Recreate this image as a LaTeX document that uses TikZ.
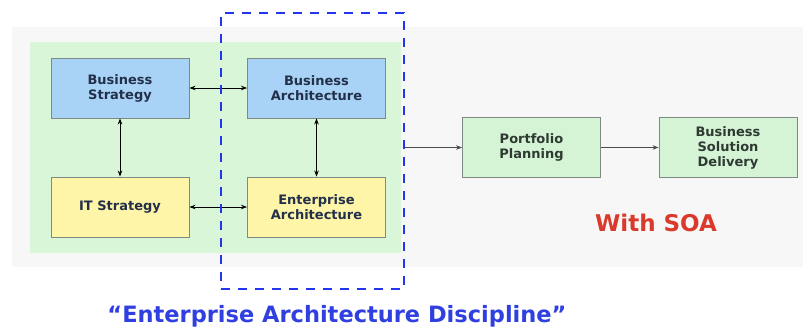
\documentclass[tikz,border=0pt]{standalone}
\usepackage{fontspec}
\setmainfont{DejaVu Sans}
\usepackage{xcolor}
\usepackage{tikz}
\usetikzlibrary{arrows.meta}

\definecolor{pagegray}{HTML}{F7F7F7}
\definecolor{areagreen}{HTML}{D9F6D9}
\definecolor{bizblue}{HTML}{A9D3F6}
\definecolor{ityellow}{HTML}{FFF5A8}
\definecolor{soagreen}{HTML}{D5F4D5}
\definecolor{boxline}{HTML}{7F8A85}
\definecolor{boxtext}{HTML}{22304A}
\definecolor{soatext}{HTML}{2E3A32}
\definecolor{dashblue}{HTML}{2236EE}
\definecolor{soared}{HTML}{D93A2B}
\definecolor{titleblue}{HTML}{2F3FE0}

\begin{document}
\begin{tikzpicture}[x=1pt, y=-1pt,
    block/.style={draw=boxline, line width=0.9pt, minimum width=138pt, minimum height=60pt,
        align=center, text=boxtext, font=\fontsize{13}{15}\selectfont\bfseries},
    link/.style={line width=0.7pt, {Stealth[length=6pt,width=4.5pt]}-{Stealth[length=6pt,width=4.5pt]}},
    flow/.style={line width=0.7pt, draw=black!70, -{Stealth[length=6pt,width=4.5pt]}}]
    \useasboundingbox (0,0) rectangle (803,329);
    \fill[white] (0,0) rectangle (803,329);
    % Backgrounds
    \fill[pagegray] (12,27) rectangle (803,267);
    \fill[areagreen] (30,42) rectangle (401,253);

    % Four boxes of the left area
    \node[block, fill=bizblue] (bs) at (120,88) {Business\\Strategy};
    \node[block, fill=bizblue] (ba) at (316.5,88) {Business\\Architecture};
    \node[block, fill=ityellow] (its) at (120,207) {IT Strategy};
    \node[block, fill=ityellow] (ea) at (316.5,207) {Enterprise\\Architecture};

    % Arrows between them
    \draw[link] (bs) -- (ba);
    \draw[link] (its) -- (ea);
    \draw[link] (bs) -- (its);
    \draw[link] (ba) -- (ea);

    % Dashed frame
    \node[draw=dashblue, line width=2.4pt, dash pattern=on 9pt off 8pt,
        minimum width=183pt, minimum height=276pt, inner sep=0pt] (ead) at (312.5,151) {};

    % With SOA chain
    \node[block, fill=soagreen, text=soatext] (pp) at (531.5,147.5) {Portfolio\\Planning};
    \node[block, fill=soagreen, text=soatext] (bsd) at (728,147.5) {Business\\Solution\\Delivery};
    \draw[flow] (ead.east |- pp.west) -- (pp);
    \draw[flow] (pp) -- (bsd);

    % Labels
    \node[text=soared, font=\fontsize{23}{26}\selectfont\bfseries] (soa) at (656,223) {With SOA};
    \node[text=titleblue, font=\fontsize{22.5}{26}\selectfont\bfseries] (title) at (337,316)
        {“Enterprise Architecture Discipline”};
\end{tikzpicture}
\end{document}
